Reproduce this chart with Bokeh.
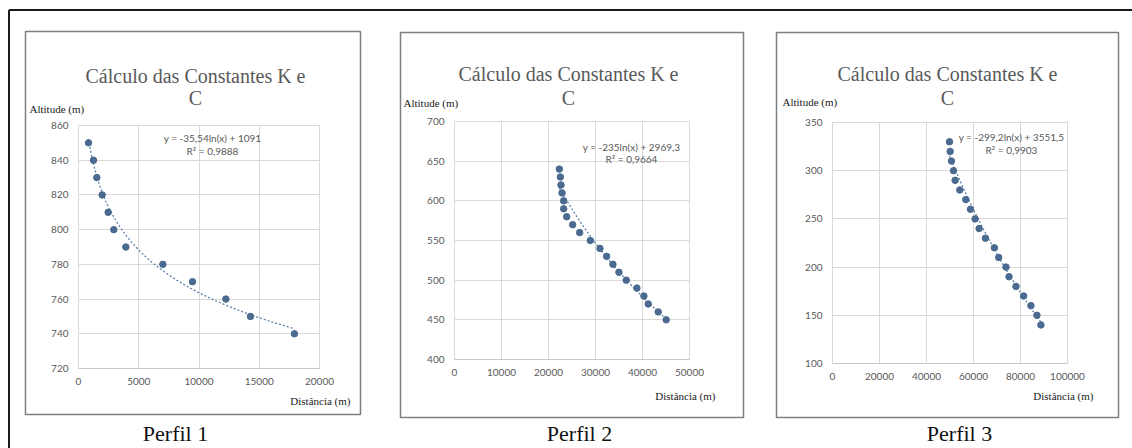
from bokeh.plotting import figure
from bokeh.models import Range1d, FixedTicker, BasicTickFormatter
from bokeh.core.properties import value
from bokeh.embed import file_html
from bokeh.resources import INLINE
import numpy as np

# ---------------- data ----------------
title_line1 = "Cálculo das Constantes K e"
title_line2 = "C"
y_label = "Altitude (m)"
x_label = "Distância (m)"

dist1 = [830, 1245, 1520, 1965, 2460, 2930, 3930, 7000, 9460, 12230, 14270, 17920]
alt1 = [850, 840, 830, 820, 810, 800, 790, 780, 770, 760, 750, 740]
xticks1 = [0, 5000, 10000, 15000, 20000]
yticks1 = [720, 740, 760, 780, 800, 820, 840, 860]
coef1 = (-35.54, 1091.0)
eq1 = "y = -35,54ln(x) + 1091"
r2_1 = "R² = 0,9888"

dist2 = [22310, 22520, 22660, 22880, 23230, 23230, 23870, 25140, 26630, 28900,
         30950, 32370, 33710, 34990, 36540, 38810, 40300, 41220, 43340, 45040]
alt2 = [640, 630, 620, 610, 600, 590, 580, 570, 560, 550,
        540, 530, 520, 510, 500, 490, 480, 470, 460, 450]
xticks2 = [0, 10000, 20000, 30000, 40000, 50000]
yticks2 = [400, 450, 500, 550, 600, 650, 700]
coef2 = (-235.0, 2969.3)
eq2 = "y = -235ln(x) + 2969,3"
r2_2 = "R² = 0,9664"

dist3 = [49790, 50070, 50640, 51490, 52190, 54170, 56720, 58700, 60680, 62380,
         65060, 68880, 70720, 73830, 75110, 78080, 81330, 84440, 86990, 88690]
alt3 = [330, 320, 310, 300, 290, 280, 270, 260, 250, 240,
        230, 220, 210, 200, 190, 180, 170, 160, 150, 140]
xticks3 = [0, 20000, 40000, 60000, 80000, 100000]
yticks3 = [100, 150, 200, 250, 300, 350]
coef3 = (-299.2, 3551.5)
eq3 = "y = -299,2ln(x) + 3551,5"
r2_3 = "R² = 0,9903"

perfis = ["Perfil 1", "Perfil 2", "Perfil 3"]

# ---------------- layout (page pixel coordinates) ----------------
W, H = 1132, 448
panels = [
    dict(dist=dist1, alt=alt1, xt=xticks1, yt=yticks1, coef=coef1, eq=eq1, r2=r2_1, perfil=perfis[0],
         frame=(78, 125, 319, 368), box=(25, 31, 360, 414),
         tcx=195, t1y=75, t2y=97, ylx=29, yly=108, xlr=350, xly=400, eqx=212, eqy=137, r2y=150,
         pcx=175),
    dict(dist=dist2, alt=alt2, xt=xticks2, yt=yticks2, coef=coef2, eq=eq2, r2=r2_2, perfil=perfis[1],
         frame=(454, 121, 689, 359), box=(400, 32, 743, 417),
         tcx=568, t1y=73, t2y=97, ylx=403, yly=102, xlr=715, xly=395, eqx=631, eqy=146, r2y=158,
         pcx=579),
    dict(dist=dist3, alt=alt3, xt=xticks3, yt=yticks3, coef=coef3, eq=eq3, r2=r2_3, perfil=perfis[2],
         frame=(832, 122, 1067, 363), box=(776, 32, 1118, 417),
         tcx=947, t1y=73, t2y=97, ylx=782, yly=101, xlr=1093, xly=395, eqx=1011, eqy=136, r2y=149,
         pcx=959),
]

MARK = "#4a6a90"
TREND = "#5a80aa"
GRID = "#d9d9d9"
TICKC = "#595959"
SERIF = "Liberation Serif"
SANS = "Lato"

roots = []

# ---------- decoration canvas (frames, titles, axis titles, captions) ----------
deco = figure(width=W, height=H, output_backend="svg", toolbar_location=None,
              x_range=Range1d(0, W), y_range=Range1d(H, 0),
              x_axis_type=None, y_axis_type=None,
              min_border=0, min_border_left=0, min_border_right=0,
              min_border_top=0, min_border_bottom=0,
              outline_line_color=None, background_fill_color="white", border_fill_color="white")
deco.xgrid.visible = False
deco.ygrid.visible = False
deco.styles = {"position": "absolute", "left": "0px", "top": "0px"}

# outer page frame (top and left edges)
deco.segment(x0=[8.5, 8.5], y0=[9.5, 9.5], x1=[W + 5, 8.5], y1=[9.5, H + 5],
             line_color="#1a1a1a", line_width=2)

def dtext(x, y, text, font, size, color, align="center", baseline="middle"):
    deco.text(x=[x], y=[y], text=[text], text_font=value(font), text_font_size=size,
              text_color=color, text_align=align, text_baseline=baseline)

for P in panels:
    bl, bt, br, bb = P["box"]
    deco.quad(left=[bl], right=[br], top=[bt], bottom=[bb], fill_alpha=0,
              line_color="#7f7f7f", line_width=1.5)
    dtext(P["tcx"], P["t1y"], title_line1, SERIF, "20px", "#595959")
    dtext(P["tcx"], P["t2y"], title_line2, SERIF, "20px", "#595959")
    dtext(P["ylx"], P["yly"], y_label, SERIF, "11px", "#1a1a1a", align="left")
    dtext(P["xlr"], P["xly"], x_label, SERIF, "11px", "#1a1a1a", align="right")
    dtext(P["pcx"], 433, P["perfil"], SERIF, "22px", "#111111")
roots.append(deco)

# ---------- the three scatter charts ----------
MBL, MBR, MBT, MBB = 40, 26, 10, 30
for P in panels:
    fl, ft, fr, fb = P["frame"]
    xs, ys = P["xt"], P["yt"]
    p = figure(width=MBL + (fr - fl) + MBR, height=MBT + (fb - ft) + MBB,
               output_backend="svg", toolbar_location=None,
               x_range=Range1d(xs[0], xs[-1]), y_range=Range1d(ys[0], ys[-1]),
               min_border_left=MBL, min_border_right=MBR, min_border_top=MBT, min_border_bottom=MBB,
               background_fill_color="white", border_fill_alpha=0,
               outline_line_color=GRID, outline_line_width=1)
    p.styles = {"position": "absolute", "left": f"{fl - MBL}px", "top": f"{ft - MBT}px"}
    p.xaxis.ticker = FixedTicker(ticks=xs)
    p.yaxis.ticker = FixedTicker(ticks=ys)
    p.xaxis.formatter = BasicTickFormatter(use_scientific=False)
    for ax in (p.xaxis[0], p.yaxis[0]):
        ax.major_tick_line_color = None
        ax.minor_tick_line_color = None
        ax.major_tick_out = 0
        ax.major_tick_in = 0
        ax.minor_tick_out = 0
        ax.major_label_text_font = SANS
        ax.major_label_text_font_size = "10px"
        ax.major_label_text_color = TICKC
    p.xaxis.axis_line_color = "#c8c8c8"
    p.yaxis.axis_line_color = None
    p.xaxis.major_label_standoff = 9
    p.yaxis.major_label_standoff = 10
    p.xgrid.grid_line_color = GRID
    p.ygrid.grid_line_color = GRID
    p.xgrid.ticker = FixedTicker(ticks=xs)
    p.ygrid.ticker = FixedTicker(ticks=ys)

    # logarithmic trendline as displayed on the chart
    a, b = P["coef"]
    tx = np.linspace(min(P["dist"]), max(P["dist"]), 200)
    p.line(tx, a * np.log(tx) + b, line_color=TREND, line_width=1.3, line_dash="2 2")
    p.scatter(P["dist"], P["alt"], size=6.5, fill_color=MARK, line_color=MARK)

    # trendline equation (inside the plot area)
    sx = P["eqx"] - fl
    p.text(x=[xs[0] + (xs[-1] - xs[0]) * sx / (fr - fl)] * 2,
           y=[ys[-1] - (ys[-1] - ys[0]) * (P["eqy"] - ft) / (fb - ft),
              ys[-1] - (ys[-1] - ys[0]) * (P["r2y"] - ft) / (fb - ft)],
           text=[P["eq"], P["r2"]], text_font=value(SANS), text_font_size="10px",
           text_color="#595959", text_align="center", text_baseline="middle")
    roots.append(p)

open("out.html", "w").write(file_html(roots, INLINE))
